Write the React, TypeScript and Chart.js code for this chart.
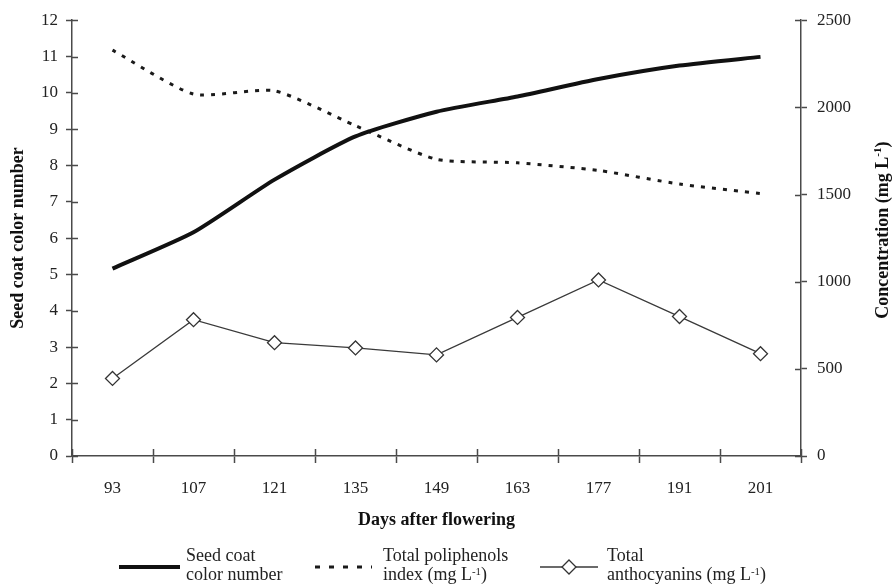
import React, { useEffect, useRef } from "react";
import { Chart, registerables } from "chart.js";
Chart.register(...registerables);

const days = ["93", "107", "121", "135", "149", "163", "177", "191", "201"];
const seedCoatColor = [5.16, 6.16, 7.61, 8.8, 9.48, 9.9, 10.38, 10.75, 10.99];
const polyphenols = [2328, 2076, 2095, 1895, 1702, 1682, 1638, 1560, 1506];
const anthocyanins = [445, 782, 650, 620, 580, 795, 1010, 800, 587];

const leftMax = 12;
const leftStep = 1;
const rightMax = 2500;
const rightStep = 500;

const axisColor = "#4a4a4a";
const FONT = "'Liberation Serif', 'Times New Roman', serif";

const innerTicks = {
  id: "innerTicks",
  afterDraw(chart: any) {
    const ctx = chart.ctx;
    const { x, y, y1 } = chart.scales;
    ctx.save();
    ctx.strokeStyle = axisColor;
    ctx.lineWidth = 1.5;
    ctx.beginPath();
    y.ticks.forEach((_: any, i: number) => {
      const py = Math.round(y.getPixelForTick(i)) + 0.5;
      ctx.moveTo(y.right, py);
      ctx.lineTo(y.right + 6, py);
    });
    y1.ticks.forEach((_: any, i: number) => {
      const py = Math.round(y1.getPixelForTick(i)) + 0.5;
      ctx.moveTo(y1.left - 6, py);
      ctx.lineTo(y1.left, py);
    });
    const n = x.ticks.length;
    const step = x.getPixelForTick(1) - x.getPixelForTick(0);
    for (let i = 0; i <= n; i++) {
      const px = Math.round(x.getPixelForTick(0) - step / 2 + i * step) + 0.5;
      ctx.moveTo(px, x.top - 7);
      ctx.lineTo(px, x.top);
    }
    ctx.stroke();

    // right axis title, reading bottom-to-top, with superscript
    const main = "Concentration (mg L";
    const supTxt = "-1";
    const close = ")";
    const bold = `bold 18px ${FONT}`;
    const small = `bold 11px ${FONT}`;
    ctx.font = bold;
    const w1 = ctx.measureText(main).width;
    const w3 = ctx.measureText(close).width;
    ctx.font = small;
    const w2 = ctx.measureText(supTxt).width;
    const total = w1 + w2 + w3;
    const cx = 882;
    const cy = (chart.chartArea.top + chart.chartArea.bottom) / 2 - 8;
    ctx.translate(cx, cy);
    ctx.rotate(-Math.PI / 2);
    ctx.fillStyle = "#111";
    ctx.textBaseline = "middle";
    ctx.textAlign = "left";
    let sx = -total / 2;
    ctx.font = bold;
    ctx.fillText(main, sx, 1);
    sx += w1;
    ctx.font = small;
    ctx.fillText(supTxt, sx, -4);
    sx += w2;
    ctx.font = bold;
    ctx.fillText(close, sx, 1);
    ctx.restore();
  },
};

export default function App() {
  const ref = useRef<HTMLCanvasElement>(null);
  useEffect(() => {
    if (!ref.current) return;
    const chart = new Chart(ref.current, {
      type: "line",
      data: {
        labels: days,
        datasets: [
          {
            label: "Seed coat color number",
            data: seedCoatColor,
            yAxisID: "y",
            borderColor: "#111",
            borderWidth: 4,
            pointRadius: 0,
            tension: 0.2,
            fill: false,
          },
          {
            label: "Total poliphenols index",
            data: polyphenols,
            yAxisID: "y1",
            borderColor: "#1a1a1a",
            borderWidth: 3,
            borderDash: [4, 7],
            pointRadius: 0,
            tension: 0.2,
            fill: false,
          },
          {
            label: "Total anthocyanins",
            data: anthocyanins,
            yAxisID: "y1",
            borderColor: "#3a3a3a",
            borderWidth: 1.3,
            pointStyle: "rectRot",
            pointRadius: 7,
            pointBackgroundColor: "#fff",
            pointBorderColor: "#333",
            pointBorderWidth: 1.3,
            tension: 0,
            fill: false,
          },
        ],
      },
      options: {
        animation: false,
        responsive: false,
        maintainAspectRatio: false,
        layout: { padding: { top: 16, bottom: 54, left: 0, right: 0 } },
        plugins: { legend: { display: false }, tooltip: { enabled: false } },
        scales: {
          x: {
            offset: true,
            grid: {
              offset: true,
              drawOnChartArea: false,
              drawTicks: true,
              tickLength: 7,
              tickColor: axisColor,
              tickWidth: 1.5,
            },
            border: { display: true, color: axisColor, width: 1.5 },
            ticks: {
              color: "#222",
              font: { family: FONT, size: 17 },
              padding: 15,
              maxRotation: 0,
            },
            title: {
              display: true,
              text: "Days after flowering",
              color: "#111",
              font: { family: FONT, size: 18, weight: "bold" },
              padding: { top: 0, bottom: 0 },
            },
            afterFit: (s: any) => {
              s.height = 75;
            },
          },
          y: {
            position: "left",
            min: 0,
            max: leftMax,
            ticks: {
              stepSize: leftStep,
              color: "#222",
              font: { family: FONT, size: 17 },
              padding: 8,
            },
            grid: {
              drawOnChartArea: false,
              tickLength: 6,
              tickColor: axisColor,
              tickWidth: 1.5,
            },
            border: { display: true, color: axisColor, width: 1.5 },
            title: {
              display: true,
              text: "Seed coat color number",
              color: "#111",
              font: { family: FONT, size: 18, weight: "bold" },
              padding: { top: 8, bottom: 0 },
            },
            afterFit: (s: any) => {
              s.width = 72;
            },
          },
          y1: {
            position: "right",
            min: 0,
            max: rightMax,
            ticks: {
              stepSize: rightStep,
              color: "#222",
              font: { family: FONT, size: 17 },
              padding: 10,
              callback: (v: any) => String(v),
            },
            grid: {
              drawOnChartArea: false,
              tickLength: 6,
              tickColor: axisColor,
              tickWidth: 1.5,
            },
            border: { display: true, color: axisColor, width: 1.5 },
            title: { display: false },
            afterFit: (s: any) => {
              s.width = 91;
            },
          },
        },
      },
      plugins: [innerTicks],
    } as any);
    return () => chart.destroy();
  }, []);

  const txt: React.CSSProperties = {
    position: "absolute",
    fontFamily: FONT,
    fontSize: 18,
    lineHeight: "19px",
    color: "#222",
    whiteSpace: "nowrap",
    top: 546,
  };
  const sup: React.CSSProperties = { fontSize: "0.6em", position: "relative", top: "-0.5em" };

  return (
    <div style={{ position: "absolute", left: 0, top: 0, width: 892, height: 585, background: "#fff" }}>
      <canvas ref={ref} width={892} height={585} style={{ display: "block", width: 892, height: 585 }} />
      <svg width={892} height={585} style={{ position: "absolute", left: 0, top: 0, pointerEvents: "none" }}>
        <line x1={119} y1={567} x2={180} y2={567} stroke="#111" strokeWidth={4} />
        <line x1={315} y1={567} x2={372} y2={567} stroke="#1a1a1a" strokeWidth={3} strokeDasharray="5 9" />
        <line x1={540} y1={567} x2={598} y2={567} stroke="#3a3a3a" strokeWidth={1.3} />
        <polygon points="569,560 576,567 569,574 562,567" fill="#fff" stroke="#333" strokeWidth={1.3} />
      </svg>
      <div style={{ ...txt, left: 186 }}>
        Seed coat
        <br />
        color number
      </div>
      <div style={{ ...txt, left: 383 }}>
        Total poliphenols
        <br />
        index (mg L<span style={sup}>-1</span>)
      </div>
      <div style={{ ...txt, left: 607 }}>
        Total
        <br />
        anthocyanins (mg L<span style={sup}>-1</span>)
      </div>
    </div>
  );
}
